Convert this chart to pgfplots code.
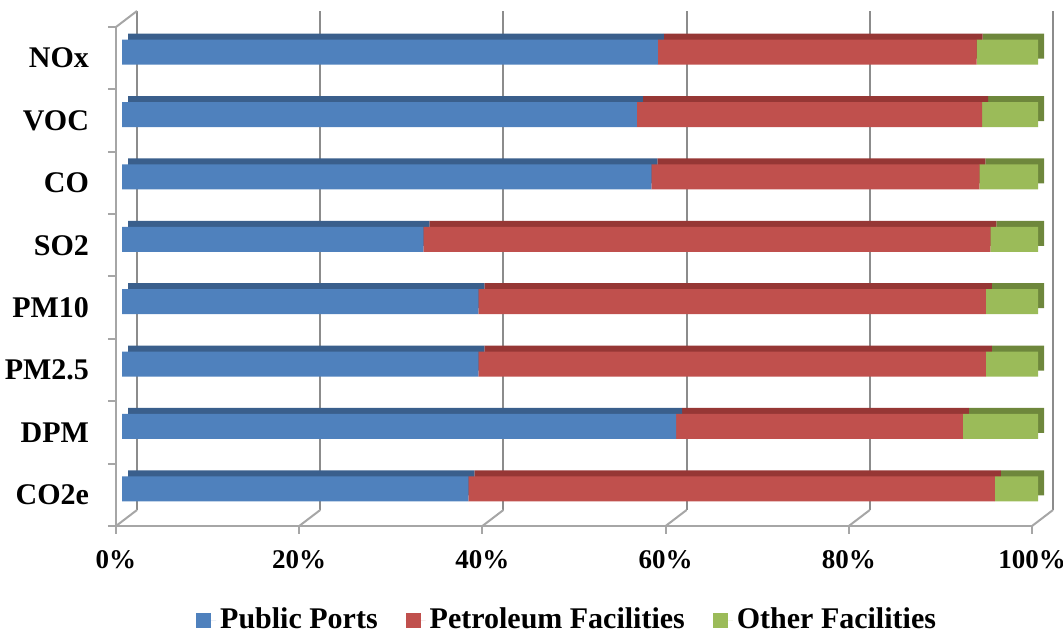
\documentclass[border=0pt]{standalone}
\usepackage{pgfplots}
\usepackage{pgfplotstable}
\pgfplotsset{compat=1.18}
\usepackage{fontspec}
\setmainfont{Liberation Serif}
\definecolor{cblue}{HTML}{4F81BD}
\definecolor{cred}{HTML}{C0504D}
\definecolor{cgreen}{HTML}{9BBB59}
\definecolor{dblue}{HTML}{3A5F8C}
\definecolor{dred}{HTML}{963735}
\definecolor{dgreen}{HTML}{6E873C}
\definecolor{framegray}{HTML}{A6A6A6}
\definecolor{gridgray}{HTML}{8C8C8C}

\pgfplotstableread{
idx pp pf of
0 37.8 57.5 4.7
1 60.5 31.3 8.2
2 38.9 55.4 5.7
3 38.9 55.4 5.7
4 32.9 61.9 5.2
5 57.8 35.8 6.4
6 56.2 37.7 6.1
7 58.5 34.8 6.7
}\datatable

\pgfplotsset{base/.style={scale only axis, width=458pt, height=249.5pt,
  xmin=0, xmax=100, ymin=-0.5, ymax=7.5, clip=false}}

\begin{document}
\begin{tikzpicture}[font=\bfseries\fontsize{15}{18}\selectfont]
\path[use as bounding box] (-58pt,-54.5pt) rectangle (473.5pt,263pt);
% back wall gridlines
\begin{axis}[base, at={(10.5pt,8pt)},
  xtick={0,20,...,100}, ytick=\empty, xticklabels=\empty,
  xmajorgrids, major grid style={draw=gridgray, line width=1pt},
  axis line style={draw=none}, major tick length=0pt]
\end{axis}
% front frame
\begin{axis}[base, at={(0pt,0pt)},
  axis x line*=bottom, axis y line*=left,
  axis line style={draw=framegray, line width=1pt, -},
  tick style={draw=framegray, line width=1pt},
  tick align=outside, major tick length=4pt,
  xtick={0,20,...,100}, xticklabels={0\%,20\%,40\%,60\%,80\%,100\%},
  xticklabel style={yshift=-4.5pt, font=\bfseries\fontsize{13.5}{16}\selectfont},
  ytick={-0.5,0.5,...,7.5}, yticklabels=\empty,
  extra y ticks={0,...,7},
  extra y tick labels={CO2e,DPM,PM2.5,PM10,SO2,CO,VOC,NOx},
  extra y tick style={major tick length=0pt, yticklabel style={xshift=-10pt}}]
\draw[framegray, line width=1pt] (axis cs:0,7.5) -- ++(10.5pt,8pt);
\draw[framegray, line width=1pt] (axis cs:0,-0.5) -- ++(10.5pt,8pt);
\draw[framegray, line width=1pt] (axis cs:20,-0.5) -- ++(10.5pt,8pt);
\draw[framegray, line width=1pt] (axis cs:40,-0.5) -- ++(10.5pt,8pt);
\draw[framegray, line width=1pt] (axis cs:60,-0.5) -- ++(10.5pt,8pt);
\draw[framegray, line width=1pt] (axis cs:80,-0.5) -- ++(10.5pt,8pt);
\draw[framegray, line width=1pt] (axis cs:100,-0.5) -- ++(10.5pt,8pt);
\end{axis}
% bar depth (top and side faces)
\begin{axis}[base, at={(6pt,6pt)}, hide axis, xbar stacked, bar width=12.5pt]
\addplot[fill=dblue, draw=none] table[x=pp, y=idx] \datatable;
\addplot[fill=dred, draw=none] table[x=pf, y=idx] \datatable;
\addplot[fill=dgreen, draw=none] table[x=of, y=idx] \datatable;
\end{axis}
% front faces
\begin{axis}[base, at={(3pt,3pt)}, hide axis, xbar stacked, bar width=12.5pt,
  legend image code/.code={\path (0pt,0pt) -- (10pt,0pt);
    \fill[#1, draw=none] (0pt,-3.75pt) rectangle (7.5pt,3.75pt);},
  legend columns=3,
  legend style={draw=none, fill=none, at={(0.487,0)}, anchor=center, yshift=-50pt,
    font=\bfseries\fontsize{15}{18}\selectfont,
    /tikz/every even column/.append style={column sep=12pt}}]
\addplot[fill=cblue, draw=none] table[x=pp, y=idx] \datatable;
\addplot[fill=cred, draw=none] table[x=pf, y=idx] \datatable;
\addplot[fill=cgreen, draw=none] table[x=of, y=idx] \datatable;
\legend{Public Ports, Petroleum Facilities, Other Facilities}
\end{axis}
\end{tikzpicture}
\end{document}
